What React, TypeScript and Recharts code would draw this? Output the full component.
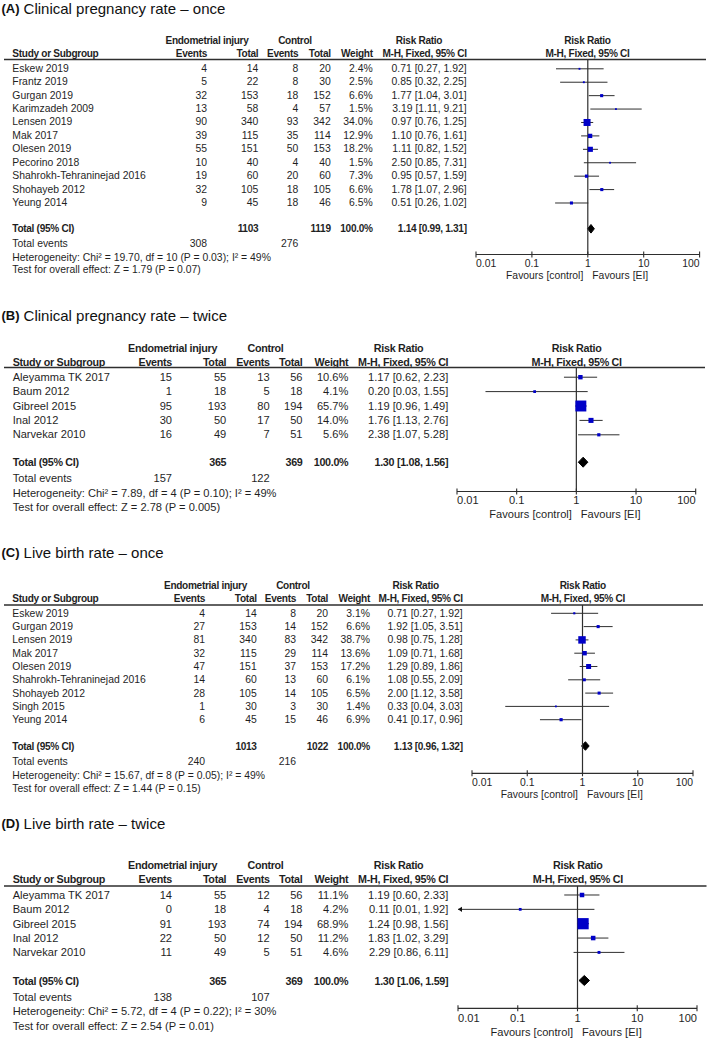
import React from 'react';
import { ComposedChart, Scatter, XAxis, YAxis, ErrorBar, ReferenceLine, Area } from 'recharts';

const FONT = "'Liberation Sans', Arial, Helvetica, sans-serif";
const TEXT_COLOR = '#1f1f1f';
const LINE_COLOR = '#2e2e2e';
const SQUARE_COLOR = '#0000c8';
const DIAMOND_COLOR = '#000000';
const BOLD_SCALE = 0.97;
const BOLD_SPACING = -0.3;

const X_TICKS = [0.01, 0.1, 1, 10, 100];
const X_TICK_LABELS = ['0.01', '0.1', '1', '10', '100'];
const HEADER_GROUPS = ['Endometrial injury', 'Control', 'Risk Ratio', 'Risk Ratio'];
const HEADER_COLUMNS = ['Study or Subgroup', 'Events', 'Total', 'Events', 'Total', 'Weight', 'M-H, Fixed, 95% CI', 'M-H, Fixed, 95% CI'];
const ROW_LABELS = ['Total (95% CI)', 'Total events'];
const FAVOURS = ['Favours [control]', 'Favours [EI]'];

// ---------- (A) Clinical pregnancy rate – once ----------
const A_TITLE = ['(A)', 'Clinical pregnancy rate – once'];
const A_STUDIES = ['Eskew 2019', 'Frantz 2019', 'Gurgan 2019', 'Karimzadeh 2009', 'Lensen 2019', 'Mak 2017', 'Olesen 2019', 'Pecorino 2018', 'Shahrokh-Tehraninejad 2016', 'Shohayeb 2012', 'Yeung 2014'];
const A_EI_EVENTS = [4, 5, 32, 13, 90, 39, 55, 10, 19, 32, 9];
const A_EI_TOTAL = [14, 22, 153, 58, 340, 115, 151, 40, 60, 105, 45];
const A_CTRL_EVENTS = [8, 8, 18, 4, 93, 35, 50, 4, 20, 18, 18];
const A_CTRL_TOTAL = [20, 30, 152, 57, 342, 114, 153, 40, 60, 105, 46];
const A_WEIGHT = [2.4, 2.5, 6.6, 1.5, 34.0, 12.9, 18.2, 1.5, 7.3, 6.6, 6.5];
const A_RR = [0.71, 0.85, 1.77, 3.19, 0.97, 1.10, 1.11, 2.50, 0.95, 1.78, 0.51];
const A_LOW = [0.27, 0.32, 1.04, 1.11, 0.76, 0.76, 0.82, 0.85, 0.57, 1.07, 0.26];
const A_HIGH = [1.92, 2.25, 3.01, 9.21, 1.25, 1.61, 1.52, 7.31, 1.59, 2.96, 1.02];
const A_TOTALS = [1103, 1119];
const A_TOTAL_EVENTS = [308, 276];
const A_POOLED = [1.14, 0.99, 1.31];
const A_HETEROGENEITY = 'Heterogeneity: Chi² = 19.70, df = 10 (P = 0.03); I² = 49%';
const A_OVERALL = 'Test for overall effect: Z = 1.79 (P = 0.07)';

// ---------- (B) Clinical pregnancy rate – twice ----------
const B_TITLE = ['(B)', 'Clinical pregnancy rate – twice'];
const B_STUDIES = ['Aleyamma TK 2017', 'Baum 2012', 'Gibreel 2015', 'Inal 2012', 'Narvekar 2010'];
const B_EI_EVENTS = [15, 1, 95, 30, 16];
const B_EI_TOTAL = [55, 18, 193, 50, 49];
const B_CTRL_EVENTS = [13, 5, 80, 17, 7];
const B_CTRL_TOTAL = [56, 18, 194, 50, 51];
const B_WEIGHT = [10.6, 4.1, 65.7, 14.0, 5.6];
const B_RR = [1.17, 0.20, 1.19, 1.76, 2.38];
const B_LOW = [0.62, 0.03, 0.96, 1.13, 1.07];
const B_HIGH = [2.23, 1.55, 1.49, 2.76, 5.28];
const B_TOTALS = [365, 369];
const B_TOTAL_EVENTS = [157, 122];
const B_POOLED = [1.30, 1.08, 1.56];
const B_HETEROGENEITY = 'Heterogeneity: Chi² = 7.89, df = 4 (P = 0.10); I² = 49%';
const B_OVERALL = 'Test for overall effect: Z = 2.78 (P = 0.005)';

// ---------- (C) Live birth rate – once ----------
const C_TITLE = ['(C)', 'Live birth rate – once'];
const C_STUDIES = ['Eskew 2019', 'Gurgan 2019', 'Lensen 2019', 'Mak 2017', 'Olesen 2019', 'Shahrokh-Tehraninejad 2016', 'Shohayeb 2012', 'Singh 2015', 'Yeung 2014'];
const C_EI_EVENTS = [4, 27, 81, 32, 47, 14, 28, 1, 6];
const C_EI_TOTAL = [14, 153, 340, 115, 151, 60, 105, 30, 45];
const C_CTRL_EVENTS = [8, 14, 83, 29, 37, 13, 14, 3, 15];
const C_CTRL_TOTAL = [20, 152, 342, 114, 153, 60, 105, 30, 46];
const C_WEIGHT = [3.1, 6.6, 38.7, 13.6, 17.2, 6.1, 6.5, 1.4, 6.9];
const C_RR = [0.71, 1.92, 0.98, 1.09, 1.29, 1.08, 2.00, 0.33, 0.41];
const C_LOW = [0.27, 1.05, 0.75, 0.71, 0.89, 0.55, 1.12, 0.04, 0.17];
const C_HIGH = [1.92, 3.51, 1.28, 1.68, 1.86, 2.09, 3.58, 3.03, 0.96];
const C_TOTALS = [1013, 1022];
const C_TOTAL_EVENTS = [240, 216];
const C_POOLED = [1.13, 0.96, 1.32];
const C_HETEROGENEITY = 'Heterogeneity: Chi² = 15.67, df = 8 (P = 0.05); I² = 49%';
const C_OVERALL = 'Test for overall effect: Z = 1.44 (P = 0.15)';

// ---------- (D) Live birth rate – twice ----------
const D_TITLE = ['(D)', 'Live birth rate – twice'];
const D_STUDIES = ['Aleyamma TK 2017', 'Baum 2012', 'Gibreel 2015', 'Inal 2012', 'Narvekar 2010'];
const D_EI_EVENTS = [14, 0, 91, 22, 11];
const D_EI_TOTAL = [55, 18, 193, 50, 49];
const D_CTRL_EVENTS = [12, 4, 74, 12, 5];
const D_CTRL_TOTAL = [56, 18, 194, 50, 51];
const D_WEIGHT = [11.1, 4.2, 68.9, 11.2, 4.6];
const D_RR = [1.19, 0.11, 1.24, 1.83, 2.29];
const D_LOW = [0.60, 0.01, 0.98, 1.02, 0.86];
const D_HIGH = [2.33, 1.92, 1.56, 3.29, 6.11];
const D_TOTALS = [365, 369];
const D_TOTAL_EVENTS = [138, 107];
const D_POOLED = [1.30, 1.06, 1.59];
const D_HETEROGENEITY = 'Heterogeneity: Chi² = 5.72, df = 4 (P = 0.22); I² = 30%';
const D_OVERALL = 'Test for overall effect: Z = 2.54 (P = 0.01)';

type PanelData = {
  title: string[]; studies: string[]; eiEvents: number[]; eiTotal: number[]; ctrlEvents: number[]; ctrlTotal: number[];
  weight: number[]; rr: number[]; low: number[]; high: number[]; totals: number[]; totalEvents: number[];
  pooled: number[]; het: string; overall: string;
};

const build = (title: string[], studies: string[], eiEvents: number[], eiTotal: number[], ctrlEvents: number[], ctrlTotal: number[],
  weight: number[], rr: number[], low: number[], high: number[], totals: number[], totalEvents: number[], pooled: number[], het: string, overall: string): PanelData =>
  ({ title, studies, eiEvents, eiTotal, ctrlEvents, ctrlTotal, weight, rr, low, high, totals, totalEvents, pooled, het, overall });

const PANEL_A = build(A_TITLE, A_STUDIES, A_EI_EVENTS, A_EI_TOTAL, A_CTRL_EVENTS, A_CTRL_TOTAL, A_WEIGHT, A_RR, A_LOW, A_HIGH, A_TOTALS, A_TOTAL_EVENTS, A_POOLED, A_HETEROGENEITY, A_OVERALL);
const PANEL_B = build(B_TITLE, B_STUDIES, B_EI_EVENTS, B_EI_TOTAL, B_CTRL_EVENTS, B_CTRL_TOTAL, B_WEIGHT, B_RR, B_LOW, B_HIGH, B_TOTALS, B_TOTAL_EVENTS, B_POOLED, B_HETEROGENEITY, B_OVERALL);
const PANEL_C = build(C_TITLE, C_STUDIES, C_EI_EVENTS, C_EI_TOTAL, C_CTRL_EVENTS, C_CTRL_TOTAL, C_WEIGHT, C_RR, C_LOW, C_HIGH, C_TOTALS, C_TOTAL_EVENTS, C_POOLED, C_HETEROGENEITY, C_OVERALL);
const PANEL_D = build(D_TITLE, D_STUDIES, D_EI_EVENTS, D_EI_TOTAL, D_CTRL_EVENTS, D_CTRL_TOTAL, D_WEIGHT, D_RR, D_LOW, D_HIGH, D_TOTALS, D_TOTAL_EVENTS, D_POOLED, D_HETEROGENEITY, D_OVERALL);

// ---------- layout (pixel positions of the RevMan-style panels) ----------
type Layout = {
  fs: number; titleY: number; k: number; dPx: number;
  name: number; eiE: number; eiT: number; cE: number; cT: number; w: number; rr: number;
  eiHX: number; ctrlHX: number; rrHX: number; hdr1Y: number; hdr2Y: number; lineY: number; lineX2: number;
  row0: number; rowH: number; totalY: number; totEvY: number; hetY: number; testY: number;
  axisY: number; plotL: number; plotR: number; lblDy: number; favDy: number;
};

const LAYOUT_A: Layout = {
  fs: 10.4, titleY: 7.5, k: 1.2, dPx: 4.3,
  name: 12.3, eiE: 207, eiT: 258.3, cE: 298.3, cT: 330.7, w: 372.7, rr: 466.7,
  eiHX: 207, ctrlHX: 295, rrHX: 419, hdr1Y: 40, hdr2Y: 53, lineY: 59.5, lineX2: 706,
  row0: 68.3, rowH: 13.42, totalY: 228.3, totEvY: 243.3, hetY: 257.3, testY: 269.3,
  axisY: 254, plotL: 475.7, plotR: 699.3, lblDy: 9.3, favDy: 21,
};
const LAYOUT_B: Layout = {
  fs: 11.1, titleY: 315, k: 1.35, dPx: 5,
  name: 12.7, eiE: 172, eiT: 226.3, cE: 269.7, cT: 302.5, w: 348.4, rr: 448.3,
  eiHX: 172.6, ctrlHX: 265.5, rrHX: 398.6, hdr1Y: 347.5, hdr2Y: 361.7, lineY: 367.5, lineX2: 705,
  row0: 376.7, rowH: 14.4, totalY: 461.7, totEvY: 478.3, hetY: 493.3, testY: 506.7,
  axisY: 491, plotL: 457.3, plotR: 696, lblDy: 8.8, favDy: 22.5,
};
const LAYOUT_C: Layout = {
  fs: 10.4, titleY: 552.3, k: 1.2, dPx: 4.3,
  name: 12.3, eiE: 205, eiT: 256.7, cE: 296, cT: 328, w: 370, rr: 462.7,
  eiHX: 205.5, ctrlHX: 293, rrHX: 415.7, hdr1Y: 585, hdr2Y: 598.3, lineY: 605, lineX2: 703,
  row0: 613.3, rowH: 13.3, totalY: 746, totEvY: 761, hetY: 775, testY: 788.5,
  axisY: 773.3, plotL: 472.3, plotR: 693.3, lblDy: 9, favDy: 21,
};
const LAYOUT_D: Layout = {
  fs: 11.1, titleY: 823.3, k: 1.35, dPx: 5,
  name: 12.7, eiE: 172, eiT: 226.3, cE: 269.7, cT: 302.5, w: 348.4, rr: 448.3,
  eiHX: 172.6, ctrlHX: 265.5, rrHX: 398.6, hdr1Y: 864.5, hdr2Y: 879.3, lineY: 886, lineX2: 706.5,
  row0: 895, rowH: 14.35, totalY: 980.5, totEvY: 996.7, hetY: 1011, testY: 1025.7,
  axisY: 1008.3, plotL: 458.3, plotR: 697.3, lblDy: 9.3, favDy: 23.4,
};

const fmtCI = (v: number, lo: number, hi: number) => `${v.toFixed(2)} [${lo.toFixed(2)}, ${hi.toFixed(2)}]`;
const fmtW = (w: number) => `${w.toFixed(1)}%`;

function T(props: { x: number; y: number; fs: number; anchor?: 'start' | 'middle' | 'end'; bold?: boolean; children: React.ReactNode }) {
  const { x, y, fs, anchor = 'start', bold = false, children } = props;
  return (
    <text x={x} y={y} textAnchor={anchor} dominantBaseline="central" fontFamily={FONT} fontSize={bold ? fs * BOLD_SCALE : fs}
      fontWeight={bold ? 700 : 400} letterSpacing={bold ? BOLD_SPACING : 0} fill={TEXT_COLOR}>{children}</text>
  );
}

function AxisTick(props: any) {
  const { x, y, payload, fs, lblDy, favDy } = props;
  const v = payload.value as number;
  const idx = X_TICKS.findIndex((t) => Math.abs(Math.log10(t) - Math.log10(v)) < 1e-6);
  const anchor = idx === 0 ? 'start' : idx === X_TICKS.length - 1 ? 'end' : 'middle';
  return (
    <g>
      <line x1={x} x2={x} y1={y - 3} y2={y + 3} stroke={LINE_COLOR} strokeWidth={1.1} />
      <text x={x} y={y + lblDy} textAnchor={anchor} dominantBaseline="central" fontFamily={FONT} fontSize={fs} fill={TEXT_COLOR}>
        {X_TICK_LABELS[idx]}
      </text>
      {idx === 2 && (
        <g>
          <text x={x - 4.5} y={y + favDy} textAnchor="end" dominantBaseline="central" fontFamily={FONT} fontSize={fs} fill={TEXT_COLOR}>{FAVOURS[0]}</text>
          <text x={x + 4.5} y={y + favDy} textAnchor="start" dominantBaseline="central" fontFamily={FONT} fontSize={fs} fill={TEXT_COLOR}>{FAVOURS[1]}</text>
        </g>
      )}
    </g>
  );
}

function Panel({ d, L }: { d: PanelData; L: Layout }) {
  const M = 6;
  const AXIS_H = 34;
  const W = L.plotR - L.plotL + 2 * M;
  const H = L.axisY - L.lineY + AXIS_H;
  const yMin = (L.lineY - L.row0) / L.rowH;
  const yMax = (L.axisY - L.row0) / L.rowH;
  const tRow = (L.totalY - L.row0) / L.rowH;
  const dh = L.dPx / L.rowH;
  const mid = (L.plotL + L.plotR) / 2;

  const pts = d.rr.map((v, i) => ({ x: v, y: i, err: [v - d.low[i], d.high[i] - v], w: d.weight[i] }));
  const arrows = d.low.map((lo, i) => ({ lo, i })).filter((p) => p.lo <= X_TICKS[0]).map((p) => ({ x: X_TICKS[0], y: p.i }));
  const diamond = [
    { x: d.pooled[1], dm: [tRow, tRow] },
    { x: d.pooled[0], dm: [tRow - dh, tRow + dh] },
    { x: d.pooled[2], dm: [tRow, tRow] },
  ];

  const SquareShape = (p: any) => {
    const s = Math.max(1.8, L.k * Math.sqrt(p.payload.w));
    return <rect x={p.cx - s / 2} y={p.cy - s / 2} width={s} height={s} fill={SQUARE_COLOR} />;
  };
  const ArrowShape = (p: any) => (
    <polygon points={`${p.cx},${p.cy} ${p.cx + 4},${p.cy - 2.6} ${p.cx + 4},${p.cy + 2.6}`} fill="#111" />
  );

  const rowY = (i: number) => L.row0 + L.rowH * i;
  const fs = L.fs;

  return (
    <>
      <div style={{ position: 'absolute', left: L.plotL - M, top: L.lineY, width: W, height: H }}>
        <ComposedChart width={W} height={H} margin={{ top: 0, right: M, bottom: 0, left: M }}>
          <XAxis type="number" dataKey="x" scale="log" domain={[X_TICKS[0], X_TICKS[X_TICKS.length - 1]]}
            ticks={X_TICKS} allowDataOverflow interval={0} tickLine={false} tickSize={0} tickMargin={0}
            height={AXIS_H} axisLine={{ stroke: LINE_COLOR, strokeWidth: 1.2 }}
            tick={<AxisTick fs={fs} lblDy={L.lblDy} favDy={L.favDy} />} />
          <YAxis type="number" dataKey="y" hide width={0} reversed domain={[yMin, yMax]} allowDataOverflow />
          <ReferenceLine x={1} stroke={LINE_COLOR} strokeWidth={1.2} />
          <Area data={diamond} dataKey="dm" type="linear" fill={DIAMOND_COLOR} fillOpacity={1} stroke={DIAMOND_COLOR}
            strokeWidth={1} dot={false} activeDot={false} isAnimationActive={false} />
          <Scatter data={pts} shape={SquareShape} isAnimationActive={false}>
            <ErrorBar dataKey="err" direction="x" width={0} stroke={LINE_COLOR} strokeWidth={1} isAnimationActive={false} />
          </Scatter>
          {arrows.length > 0 && <Scatter data={arrows} shape={ArrowShape} isAnimationActive={false} />}
        </ComposedChart>
      </div>
      <svg width={709} height={1038} style={{ position: 'absolute', left: 0, top: 0, pointerEvents: 'none' }}>
        <text x={1.5} y={L.titleY} dominantBaseline="central" fontFamily={FONT} fill="#111">
          <tspan fontSize={13} fontWeight={700}>{d.title[0]}</tspan>
          <tspan fontSize={15} dx={4}>{d.title[1]}</tspan>
        </text>
        <T x={L.eiHX} y={L.hdr1Y} fs={fs} anchor="middle" bold>{HEADER_GROUPS[0]}</T>
        <T x={L.ctrlHX} y={L.hdr1Y} fs={fs} anchor="middle" bold>{HEADER_GROUPS[1]}</T>
        <T x={L.rrHX} y={L.hdr1Y} fs={fs} anchor="middle" bold>{HEADER_GROUPS[2]}</T>
        <T x={mid} y={L.hdr1Y} fs={fs} anchor="middle" bold>{HEADER_GROUPS[3]}</T>
        <T x={L.name} y={L.hdr2Y} fs={fs} bold>{HEADER_COLUMNS[0]}</T>
        <T x={L.eiE} y={L.hdr2Y} fs={fs} anchor="end" bold>{HEADER_COLUMNS[1]}</T>
        <T x={L.eiT} y={L.hdr2Y} fs={fs} anchor="end" bold>{HEADER_COLUMNS[2]}</T>
        <T x={L.cE} y={L.hdr2Y} fs={fs} anchor="end" bold>{HEADER_COLUMNS[3]}</T>
        <T x={L.cT} y={L.hdr2Y} fs={fs} anchor="end" bold>{HEADER_COLUMNS[4]}</T>
        <T x={L.w} y={L.hdr2Y} fs={fs} anchor="end" bold>{HEADER_COLUMNS[5]}</T>
        <T x={L.rr} y={L.hdr2Y} fs={fs} anchor="end" bold>{HEADER_COLUMNS[6]}</T>
        <T x={mid} y={L.hdr2Y} fs={fs} anchor="middle" bold>{HEADER_COLUMNS[7]}</T>
        <line x1={4} x2={L.lineX2} y1={L.lineY} y2={L.lineY} stroke={LINE_COLOR} strokeWidth={1.3} />
        {d.studies.map((s, i) => (
          <g key={s}>
            <T x={L.name} y={rowY(i)} fs={fs}>{s}</T>
            <T x={L.eiE} y={rowY(i)} fs={fs} anchor="end">{d.eiEvents[i]}</T>
            <T x={L.eiT} y={rowY(i)} fs={fs} anchor="end">{d.eiTotal[i]}</T>
            <T x={L.cE} y={rowY(i)} fs={fs} anchor="end">{d.ctrlEvents[i]}</T>
            <T x={L.cT} y={rowY(i)} fs={fs} anchor="end">{d.ctrlTotal[i]}</T>
            <T x={L.w} y={rowY(i)} fs={fs} anchor="end">{fmtW(d.weight[i])}</T>
            <T x={L.rr} y={rowY(i)} fs={fs} anchor="end">{fmtCI(d.rr[i], d.low[i], d.high[i])}</T>
          </g>
        ))}
        <T x={L.name} y={L.totalY} fs={fs} bold>{ROW_LABELS[0]}</T>
        <T x={L.eiT} y={L.totalY} fs={fs} anchor="end" bold>{d.totals[0]}</T>
        <T x={L.cT} y={L.totalY} fs={fs} anchor="end" bold>{d.totals[1]}</T>
        <T x={L.w} y={L.totalY} fs={fs} anchor="end" bold>{fmtW(100)}</T>
        <T x={L.rr} y={L.totalY} fs={fs} anchor="end" bold>{fmtCI(d.pooled[0], d.pooled[1], d.pooled[2])}</T>
        <T x={L.name} y={L.totEvY} fs={fs}>{ROW_LABELS[1]}</T>
        <T x={L.eiE} y={L.totEvY} fs={fs} anchor="end">{d.totalEvents[0]}</T>
        <T x={L.cE} y={L.totEvY} fs={fs} anchor="end">{d.totalEvents[1]}</T>
        <T x={L.name} y={L.hetY} fs={fs}>{d.het}</T>
        <T x={L.name} y={L.testY} fs={fs}>{d.overall}</T>
      </svg>
    </>
  );
}

export default function App() {
  return (
    <div style={{ position: 'absolute', left: 0, top: 0, width: 709, height: 1038, background: '#ffffff', overflow: 'hidden' }}>
      <Panel d={PANEL_A} L={LAYOUT_A} />
      <Panel d={PANEL_B} L={LAYOUT_B} />
      <Panel d={PANEL_C} L={LAYOUT_C} />
      <Panel d={PANEL_D} L={LAYOUT_D} />
    </div>
  );
}
